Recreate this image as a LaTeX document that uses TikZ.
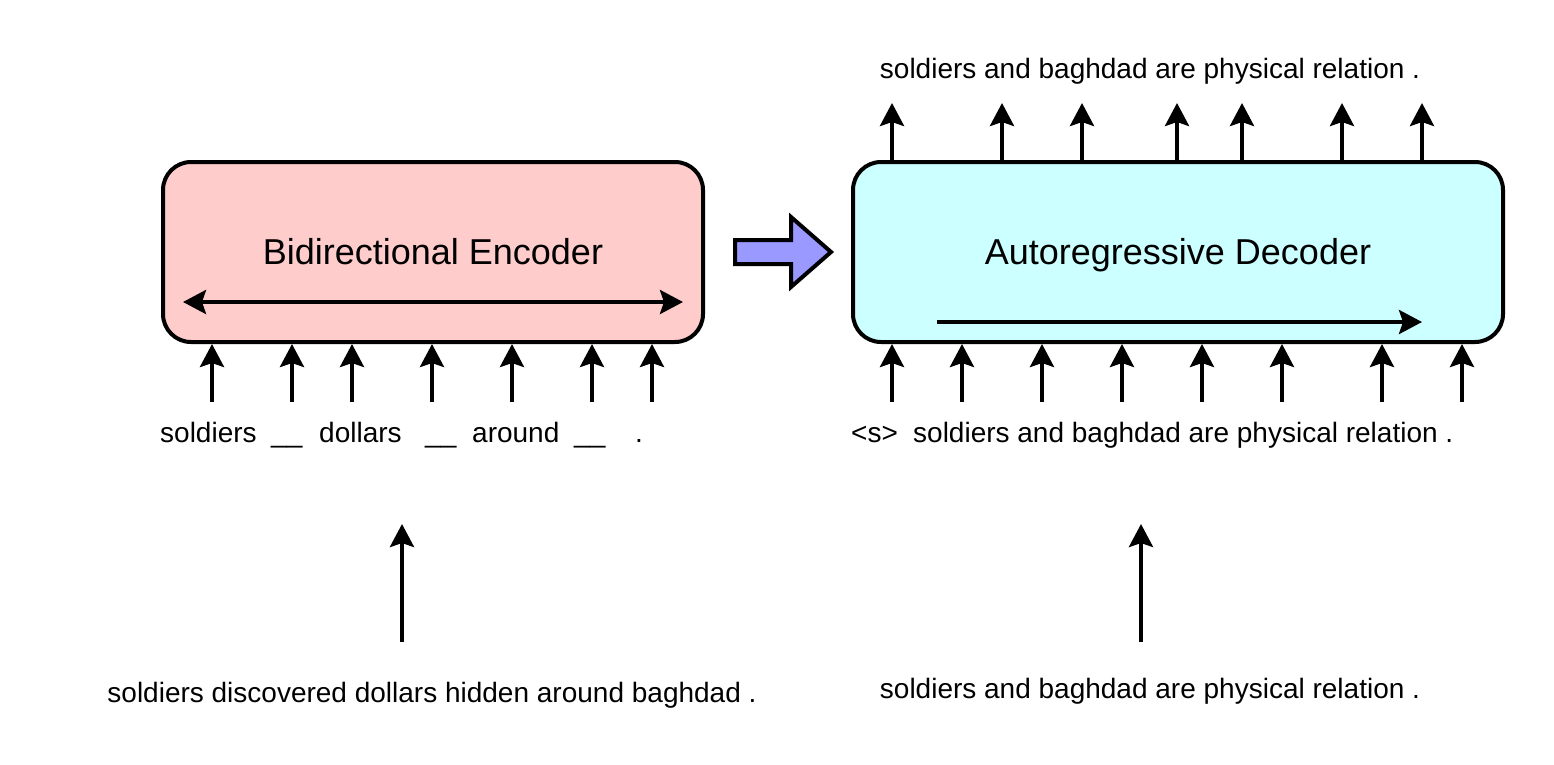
\documentclass[tikz,border=0pt]{standalone}
\usepackage{fontspec}
\setmainfont{Liberation Sans}
\usetikzlibrary{arrows.meta}
\definecolor{encfill}{HTML}{FFCCCC}
\definecolor{decfill}{HTML}{CCFFFF}
\definecolor{bigfill}{HTML}{9999FF}
\begin{document}
\begin{tikzpicture}[x=1pt,y=-1pt,
  boxstyle/.style={draw=black,line width=4pt,rounded corners=28pt,minimum height=180pt,inner sep=0pt},
  titlestyle/.style={anchor=base,inner sep=0pt,font=\fontsize{36}{43}\selectfont},
  tok/.style={anchor=base west,inner sep=0pt,font=\fontsize{28}{34}\selectfont},
  tokc/.style={anchor=base,inner sep=0pt,font=\fontsize{28}{34}\selectfont},
  arr/.style={line width=4pt,-{Stealth[length=23pt,width=24pt,inset=4pt]}},
  darr/.style={line width=4pt,{Stealth[length=23pt,width=24pt,inset=4pt]}-{Stealth[length=23pt,width=24pt,inset=4pt]}},
  bigarrow/.style={draw=black,line width=4pt,fill=bigfill,line join=miter}
]
\useasboundingbox (0,0) rectangle (1554,764);

% boxes
\node[boxstyle,fill=encfill,minimum width=540pt] (enc) at (433,252) {};
\node[boxstyle,fill=decfill,minimum width=650pt] (dec) at (1178,252) {};
\node[titlestyle] (enctitle) at (433,264) {Bidirectional Encoder};
\node[titlestyle] (dectitle) at (1178,264) {Autoregressive Decoder};

% inner arrows
\coordinate (encL) at (183,302);
\coordinate (encR) at (683,302);
\draw[darr] (encL) -- (encR);
\coordinate (decL) at (937,322);
\coordinate (decR) at (1422,322);
\draw[arr] (decL) -- (decR);

% big arrow
\draw[bigarrow] (735,240) -- (791,240) -- (791,217) -- (831,252) -- (791,287) -- (791,264) -- (735,264) -- cycle;

% encoder input arrows
\foreach \x [count=\i] in {212,292,352,432,512,592,652}{
  \coordinate (ei\i) at (\x,402);
  \draw[arr] (ei\i) -- (ei\i |- enc.south);
}
% decoder input arrows
\foreach \x [count=\i] in {892,962,1042,1122,1202,1282,1382,1462}{
  \coordinate (di\i) at (\x,402);
  \draw[arr] (di\i) -- (di\i |- dec.south);
}
% decoder output arrows
\foreach \x [count=\i] in {892,1002,1082,1177,1242,1342,1422}{
  \coordinate (do\i) at (\x,103);
  \draw[arr] (do\i |- dec.north) -- (do\i);
}

% encoder input tokens
\node[tok] (t1) at (160,442) {soldiers};
\node[tok] (t2) at (271,442) {\_\_};
\node[tok] (t3) at (319,442) {dollars};
\node[tok] (t4) at (425,442) {\_\_};
\node[tok] (t5) at (472,442) {around};
\node[tok] (t6) at (574,442) {\_\_};
\node[tok] (t7) at (635,442) {.};

% decoder input
\node[tok] (s0) at (851,442) {<s>};
\node[tok] (s1) at (913,442) {soldiers and baghdad are physical relation .};

% decoder output
\node[tokc] (out) at (1150,78) {soldiers and baghdad are physical relation .};

% bottom sources
\node[tokc] (srcL) at (432,702) {soldiers discovered dollars hidden around baghdad .};
\node[tokc] (srcR) at (1150,698) {soldiers and baghdad are physical relation .};
\coordinate (bl) at (402,524);
\coordinate (br) at (1141,524);
\draw[arr] (bl |- 0,642) -- (bl);
\draw[arr] (br |- 0,642) -- (br);
\end{tikzpicture}
\end{document}
